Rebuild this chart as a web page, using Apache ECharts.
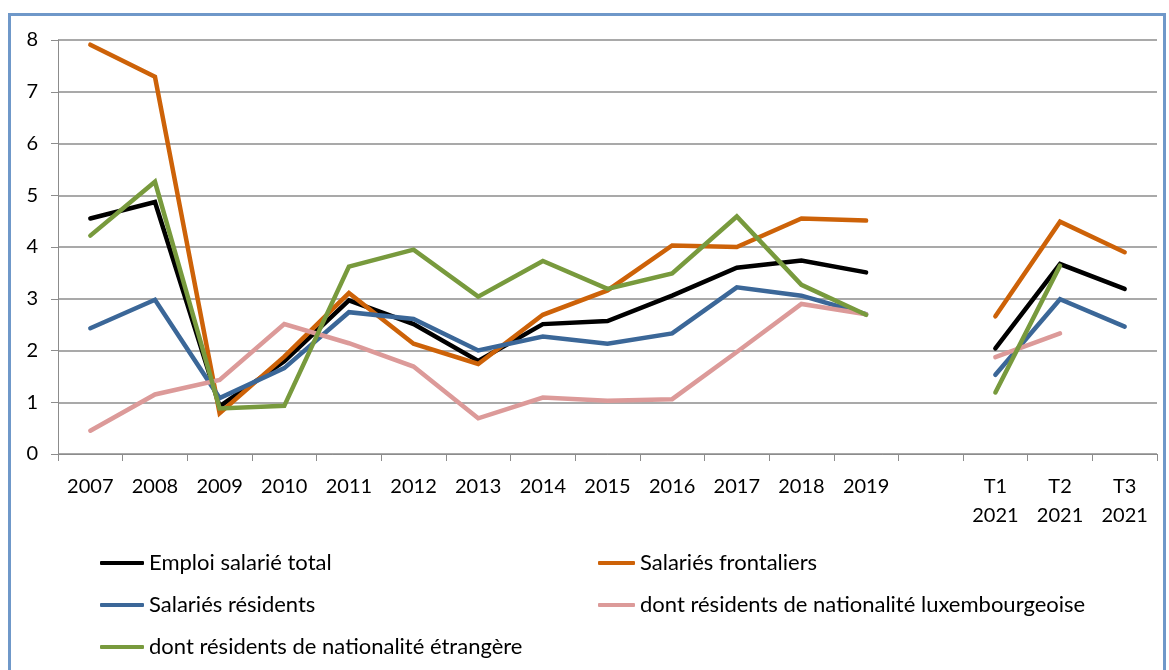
<!DOCTYPE html>
<html lang="fr">
<head>
    <meta charset="UTF-8">
    <title>Emploi salarié</title>
    <style>
        html, body { margin: 0; padding: 0; background: #fff; }
    </style>
</head>
<body>
<div id="main" style="width: 1169px;height:670px;"></div>

<script src="https://cdn.jsdelivr.net/npm/echarts@6/dist/echarts.min.js"></script>
<script>
    // catégories (une case vide entre 2019 et les trimestres 2021)
    var categories = ['2007', '2008', '2009', '2010', '2011', '2012', '2013', '2014', '2015',
        '2016', '2017', '2018', '2019', '', 'T1\n2021', 'T2\n2021', 'T3\n2021'];

    var emploiTotal = [4.55, 4.87, 0.92, 1.79, 2.97, 2.51, 1.80, 2.51, 2.57, 3.06, 3.60, 3.74, 3.51, null, 2.04, 3.67, 3.19];
    var frontaliers = [7.91, 7.29, 0.79, 1.88, 3.11, 2.13, 1.74, 2.69, 3.16, 4.03, 4.00, 4.55, 4.51, null, 2.66, 4.49, 3.90];
    var residents   = [2.43, 2.98, 1.08, 1.66, 2.74, 2.61, 2.00, 2.27, 2.13, 2.33, 3.22, 3.06, 2.70, null, 1.53, 2.99, 2.46];
    var luxembourgeois = [0.45, 1.15, 1.43, 2.51, 2.14, 1.69, 0.69, 1.09, 1.03, 1.06, 1.97, 2.90, 2.70, null, 1.87, 2.33, null];
    var etrangers   = [4.22, 5.26, 0.88, 0.93, 3.62, 3.95, 3.04, 3.73, 3.19, 3.49, 4.59, 3.27, 2.69, null, 1.19, 3.64, null];

    var yTicks = [0, 1, 2, 3, 4, 5, 6, 7, 8];

    var font = 'Lato';
    var grey = '#8c8c8c';

    function serie(name, color, data) {
        return {
            name: name,
            type: 'line',
            data: data,
            symbol: 'none',
            connectNulls: false,
            lineStyle: { color: color, width: 4.5, cap: 'round', join: 'miter' },
            itemStyle: { color: color }
        };
    }

    var myChart = echarts.init(document.getElementById('main'));

    var option = {
        animation: false,
        backgroundColor: '#fff',
        textStyle: { fontFamily: font, color: '#000' },
        grid: { left: 58, right: 12, top: 40, bottom: 216 },
        // cadre bleu autour du graphique
        graphic: [{
            type: 'rect',
            shape: { x: 9.5, y: 14.5, width: 1155, height: 720 },
            style: { fill: 'none', stroke: '#6f98c9', lineWidth: 3 },
            z: -1
        }],
        legend: [{
            left: 100, top: 552,
            padding: 0,
            orient: 'vertical',
            itemGap: 20,
            itemWidth: 44, itemHeight: 4,
            icon: 'roundRect',
            textStyle: { fontFamily: font, fontSize: 22, color: '#000', padding: [0, 0, 0, 0] },
            data: ['Emploi salarié total', 'Salariés résidents', 'dont résidents de nationalité étrangère']
        }, {
            left: 598, top: 552,
            padding: 0,
            orient: 'vertical',
            itemGap: 20,
            itemWidth: 37, itemHeight: 4,
            icon: 'roundRect',
            textStyle: { fontFamily: font, fontSize: 22, color: '#000', padding: [0, 0, 0, 0] },
            data: ['Salariés frontaliers', 'dont résidents de nationalité luxembourgeoise']
        }],
        xAxis: {
            type: 'category',
            data: categories,
            boundaryGap: true,
            axisLine: { lineStyle: { color: grey, width: 1 } },
            axisTick: { show: true, interval: 0, length: 7, lineStyle: { color: grey } },
            axisLabel: { interval: 0, margin: 18, fontSize: 20, lineHeight: 29, color: '#000', fontFamily: font }
        },
        yAxis: {
            type: 'value',
            min: yTicks[0],
            max: yTicks[yTicks.length - 1],
            interval: 1,
            axisLine: { show: true, lineStyle: { color: grey, width: 1 } },
            axisTick: { show: true, length: 7, lineStyle: { color: grey } },
            axisLabel: { margin: 20, fontSize: 20, color: '#000', fontFamily: font },
            splitLine: { lineStyle: { color: grey, width: 1.5 } }
        },
        series: [
            serie('Emploi salarié total', '#000000', emploiTotal),
            serie('Salariés frontaliers', '#cd6208', frontaliers),
            serie('Salariés résidents', '#3b6798', residents),
            serie('dont résidents de nationalité luxembourgeoise', '#dc9a99', luxembourgeois),
            serie('dont résidents de nationalité étrangère', '#789a3d', etrangers)
        ]
    };

    myChart.setOption(option);
</script>
</body>
</html>
